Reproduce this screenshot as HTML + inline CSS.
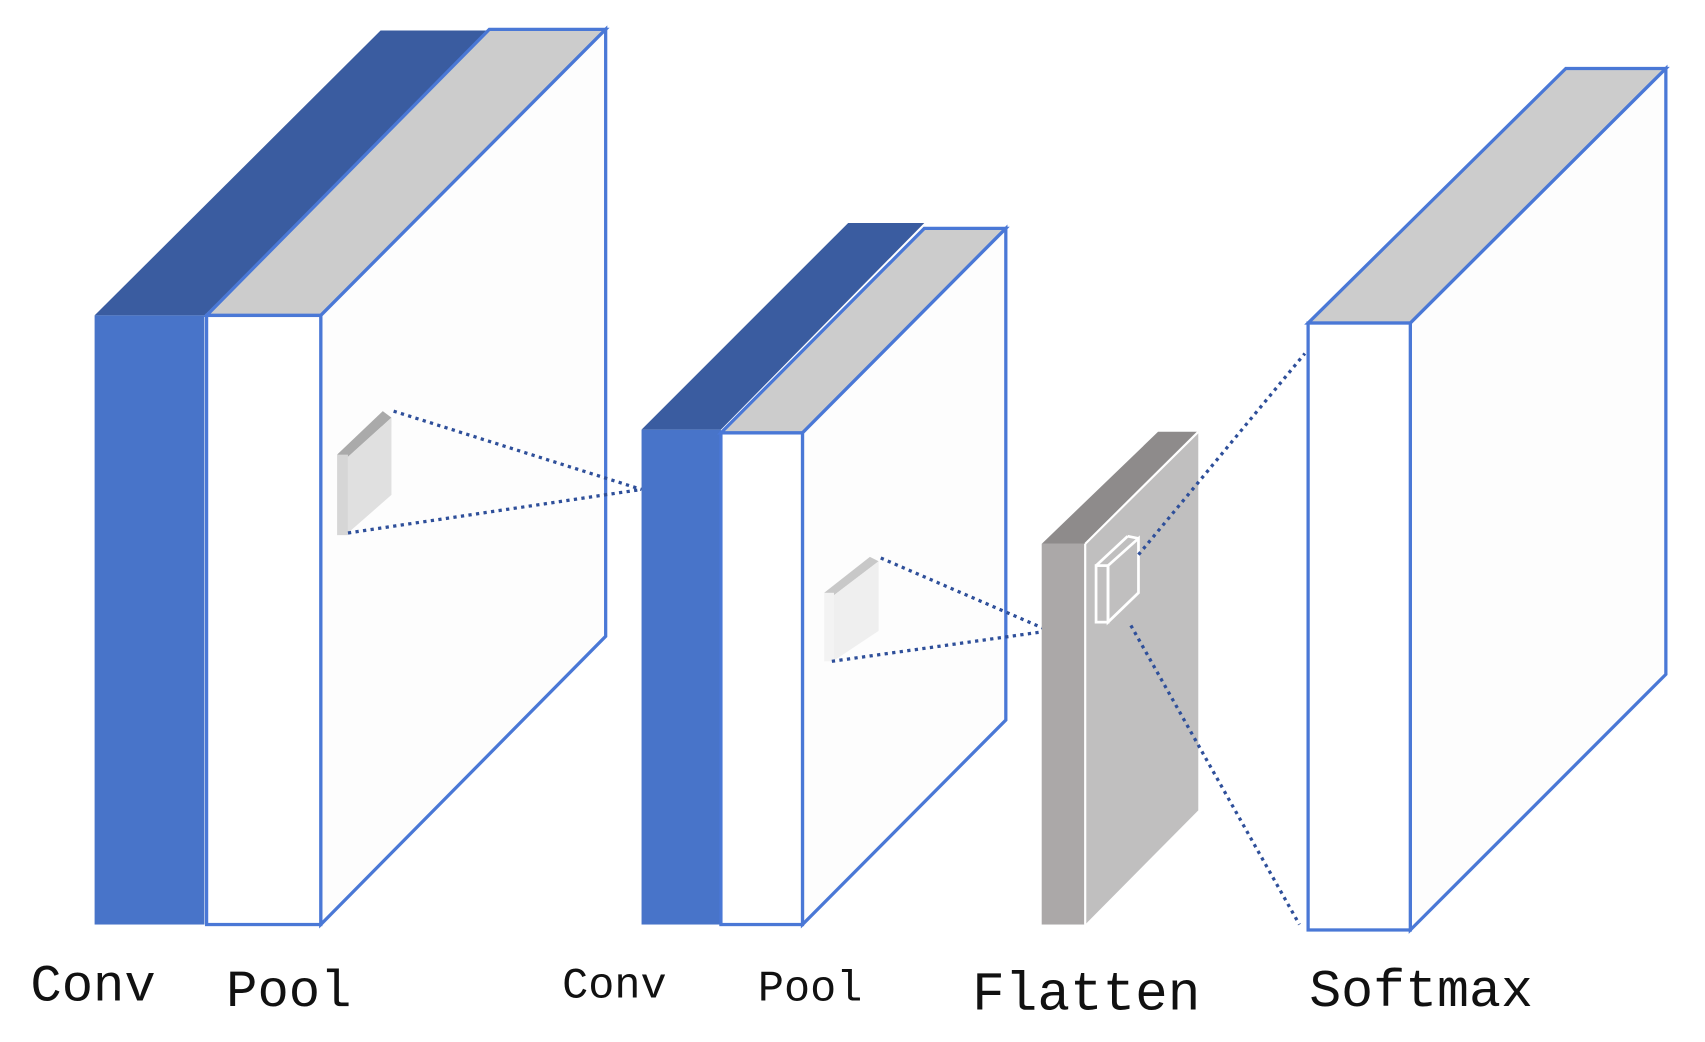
<!DOCTYPE html>
<html><head><meta charset="utf-8"><style>
html,body{margin:0;padding:0;background:#fff;}
svg{display:block;}
text{font-family:"Liberation Mono","DejaVu Sans Mono",monospace;fill:#111;}
</style></head><body>
<svg width="1705" height="1042" viewBox="0 0 1568 958" preserveAspectRatio="none" xmlns="http://www.w3.org/2000/svg">
<rect width="1568" height="958" fill="#fff"/>
<!-- Block 1 -->
<polygon points="87,290 350,28 450,28 188,290" fill="#3A5CA0"/>
<rect x="87" y="290" width="101" height="560" fill="#4874C9"/>
<polygon points="190,290 450,27 557,27 295,290" fill="#CCCCCC" stroke="#4A78D6" stroke-width="3"/>
<polygon points="295,290 557,27 557,585 295,850" fill="#FDFDFD" stroke="#4A78D6" stroke-width="3"/>
<rect x="190" y="290" width="105" height="560" fill="#fff" stroke="#4A78D6" stroke-width="3"/>
<polygon points="310,418 352,378 360,384 320,420" fill="#AAAAAA"/>
<polygon points="320,420 360,384 360,455 320,490" fill="#E0E0E0"/>
<rect x="310" y="418" width="10" height="74" fill="#D6D6D6"/>
<g stroke="#2E4F9A" stroke-width="3" stroke-dasharray="3,4" fill="none">
<line x1="362" y1="378" x2="590" y2="450"/>
<line x1="320" y1="490" x2="590" y2="450"/>
</g>
<!-- Block 2 -->
<polygon points="590,395 780,205 850,205 663,395" fill="#3A5CA0"/>
<rect x="590" y="395" width="73" height="455" fill="#4874C9"/>
<polygon points="663,398 850,210 925,210 738,398" fill="#CCCCCC" stroke="#4A78D6" stroke-width="3"/>
<polygon points="738,398 925,210 925,662 738,850" fill="#FDFDFD" stroke="#4A78D6" stroke-width="3"/>
<rect x="663" y="398" width="75" height="452" fill="#fff" stroke="#4A78D6" stroke-width="3"/>
<polygon points="758,545 800,512 808,516 766,548" fill="#C8C8C8"/>
<polygon points="766,548 808,516 808,580 766,608" fill="#EFEFEF"/>
<rect x="758" y="545" width="9" height="63" fill="#F3F3F3"/>
<g stroke="#2E4F9A" stroke-width="3" stroke-dasharray="3,4" fill="none">
<line x1="810" y1="513" x2="965" y2="580"/>
<line x1="765" y1="608" x2="965" y2="580"/>
</g>
<!-- Flatten -->
<polygon points="958,500 1065,397 1102,397 998,500" fill="#8E8B8B"/>
<rect x="958" y="500" width="40" height="350" fill="#ABA8A8"/>
<polygon points="998,500 1102,397 1102,745 998,850" fill="#C0BFBF"/>
<line x1="998" y1="500" x2="998" y2="850" stroke="#fff" stroke-width="2"/>
<line x1="998" y1="500" x2="1102" y2="397" stroke="#fff" stroke-width="2"/>
<g stroke="#fff" stroke-width="2.5" fill="none">
<rect x="1008" y="520" width="11" height="52"/>
<polygon points="1019,520 1047,495 1047,545 1019,572"/>
<line x1="1008" y1="520" x2="1037" y2="493"/>
<line x1="1037" y1="493" x2="1047" y2="495"/>
</g>
<g stroke="#2E4F9A" stroke-width="3" stroke-dasharray="3,4" fill="none">
<line x1="1047" y1="510" x2="1200" y2="325"/>
<line x1="1040" y1="575" x2="1195" y2="850"/>
</g>
<!-- Softmax -->
<polygon points="1203,297 1440,63 1532,63 1297,297" fill="#CCCCCC" stroke="#4A78D6" stroke-width="3"/>
<polygon points="1297,297 1532,63 1532,620 1297,855" fill="#FDFDFD" stroke="#4A78D6" stroke-width="3"/>
<rect x="1203" y="297" width="94" height="558" fill="#fff" stroke="#4A78D6" stroke-width="3"/>
<!-- Labels -->
<text x="28" y="920" font-size="48">Conv</text>
<text x="208" y="925" font-size="48">Pool</text>
<text x="517" y="917" font-size="40">Conv</text>
<text x="697" y="920" font-size="40">Pool</text>
<text x="894" y="928" font-size="50">Flatten</text>
<text x="1204" y="925" font-size="49">Softmax</text>
</svg>
</body></html>
